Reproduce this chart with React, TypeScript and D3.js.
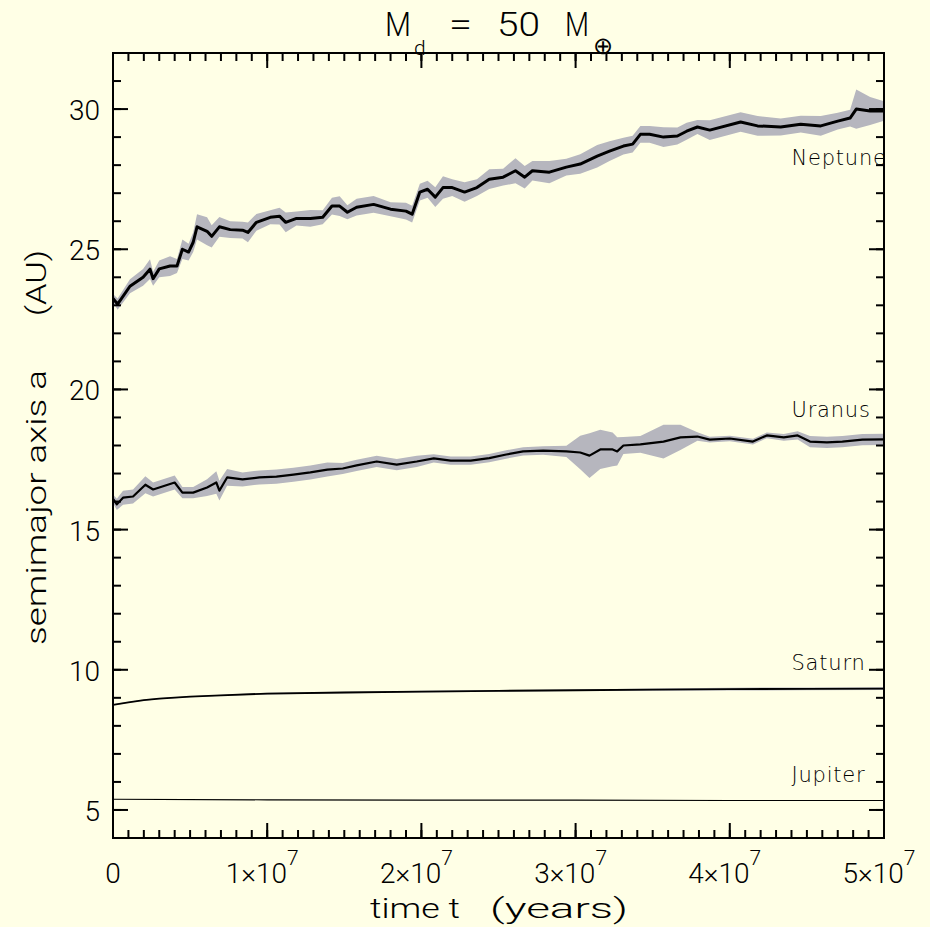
import React, { useEffect } from "react";
import * as d3 from "d3";

// time in units of 1e6 years, semimajor axis in AU
const nepT = [0, 0.3, 1.1, 1.95, 2.4, 2.6, 3.0, 3.7, 4.15, 4.5, 4.9, 5.2, 5.45, 6.1, 6.4, 6.9, 7.6, 8.4, 8.75, 9.3, 10.2, 10.8, 11.2, 11.9, 12.8, 13.6, 14.2, 14.7, 15.2, 15.8, 16.9, 18.0, 19.0, 19.4, 19.9, 20.4, 20.9, 21.4, 22.0, 22.8, 23.6, 24.4, 25.3, 26.1, 26.7, 27.2, 28.3, 29.4, 30.3, 31.4, 32.2, 33.1, 33.7, 34.2, 34.8, 35.7, 36.6, 37.2, 37.9, 38.7, 40.7, 41.8, 43.3, 44.6, 45.9, 47.0, 47.8, 48.2, 49.1, 50.0];
const nepA = [23.25, 23.04, 23.68, 24.0, 24.29, 23.95, 24.3, 24.4, 24.4, 25.0, 24.9, 25.25, 25.8, 25.64, 25.46, 25.8, 25.7, 25.68, 25.6, 25.96, 26.14, 26.18, 25.96, 26.1, 26.1, 26.14, 26.54, 26.54, 26.32, 26.5, 26.6, 26.43, 26.36, 26.25, 27.04, 27.14, 26.86, 27.2, 27.2, 27.04, 27.2, 27.5, 27.57, 27.8, 27.57, 27.8, 27.75, 27.93, 28.04, 28.32, 28.5, 28.68, 28.75, 29.1, 29.1, 29.0, 29.04, 29.21, 29.36, 29.25, 29.54, 29.4, 29.36, 29.46, 29.4, 29.57, 29.68, 30.0, 29.93, 29.93];
const nepSpread = [0.15, 0.2, 0.25, 0.3, 0.35, 0.25, 0.3, 0.35, 0.25, 0.35, 0.3, 0.35, 0.45, 0.5, 0.4, 0.35, 0.3, 0.3, 0.35, 0.3, 0.25, 0.3, 0.35, 0.25, 0.3, 0.25, 0.3, 0.35, 0.25, 0.3, 0.3, 0.25, 0.3, 0.3, 0.3, 0.3, 0.35, 0.4, 0.3, 0.35, 0.3, 0.35, 0.3, 0.45, 0.4, 0.35, 0.4, 0.3, 0.35, 0.4, 0.35, 0.3, 0.3, 0.3, 0.3, 0.35, 0.3, 0.3, 0.25, 0.35, 0.35, 0.35, 0.3, 0.3, 0.35, 0.3, 0.3, 0.7, 0.5, 0.35];

const uraT = [0, 0.25, 0.65, 1.3, 2.1, 2.6, 3.2, 4.0, 4.5, 5.2, 6.1, 6.7, 6.9, 7.4, 8.4, 9.5, 10.6, 11.7, 12.8, 13.9, 14.9, 15.8, 17.1, 18.4, 19.7, 20.8, 21.9, 23.2, 24.4, 25.5, 26.6, 27.9, 29.4, 30.3, 30.9, 31.6, 32.4, 32.7, 33.1, 34.2, 35.7, 36.8, 37.9, 38.7, 40.0, 41.5, 42.4, 43.5, 44.4, 45.2, 46.3, 47.3, 48.6, 50.0];
const uraA = [16.1, 15.9, 16.14, 16.18, 16.6, 16.43, 16.54, 16.68, 16.32, 16.32, 16.5, 16.68, 16.39, 16.86, 16.79, 16.86, 16.89, 16.96, 17.04, 17.14, 17.18, 17.29, 17.43, 17.32, 17.43, 17.54, 17.46, 17.46, 17.55, 17.68, 17.79, 17.82, 17.79, 17.75, 17.64, 17.86, 17.86, 17.79, 18.0, 18.04, 18.14, 18.29, 18.32, 18.21, 18.25, 18.14, 18.36, 18.29, 18.36, 18.14, 18.11, 18.14, 18.21, 18.22];
const uraSpread = [0.15, 0.2, 0.25, 0.25, 0.3, 0.25, 0.25, 0.25, 0.2, 0.2, 0.3, 0.4, 0.35, 0.3, 0.25, 0.25, 0.25, 0.25, 0.25, 0.25, 0.2, 0.2, 0.2, 0.2, 0.2, 0.15, 0.15, 0.15, 0.15, 0.15, 0.15, 0.15, 0.2, 0.6, 0.8, 0.7, 0.6, 0.5, 0.3, 0.3, 0.6, 0.45, 0.15, 0.1, 0.1, 0.1, 0.1, 0.12, 0.15, 0.2, 0.2, 0.2, 0.2, 0.2];

const satT = [0, 1, 2, 3, 5, 7, 10, 15, 20, 25, 30, 35, 40, 45, 50];
const satA = [8.75, 8.84, 8.92, 8.97, 9.04, 9.09, 9.15, 9.19, 9.22, 9.25, 9.27, 9.29, 9.31, 9.32, 9.33];
const satSpread = [0.02, 0.02, 0.02, 0.02, 0.02, 0.02, 0.03, 0.03, 0.03, 0.03, 0.03, 0.04, 0.05, 0.05, 0.05];

const jupT = [0, 10, 20, 30, 40, 50];
const jupA = [5.38, 5.36, 5.35, 5.35, 5.34, 5.34];

const planetNames = ["Neptune", "Uranus", "Saturn", "Jupiter"];
const labelA = [28, 19, 10, 6];
const labelT = 44; // 1e6 yr

const xTicks = [0, 1, 2, 3, 4, 5]; // x 1e7 yr
const yTicks = [5, 10, 15, 20, 25, 30];

const BG = "#ffffe6";
const BAND = "#b6b6be";
const FONT = "Roboto, 'DejaVu Sans', sans-serif";

function toPts(t: number[], a: number[], s?: number[]) {
  return t.map((v, i) => ({ t: v * 1e6, a: a[i], s: s ? s[i] : 0 }));
}

export default function App() {
  useEffect(() => {
    document.body.style.margin = "0";
    document.body.style.background = BG;
  }, []);

  const W = 930, H = 927;
  const left = 113, right = 884, top = 53, bottom = 838;
  const x = d3.scaleLinear().domain([0, 5e7]).range([left, right]);
  const y = d3.scaleLinear().domain([4, 32]).range([bottom, top]);

  const line = d3.line<{ t: number; a: number }>().x(d => x(d.t)).y(d => y(d.a));
  const band = d3.area<{ t: number; a: number; s: number }>()
    .x(d => x(d.t)).y0(d => y(d.a - d.s)).y1(d => y(d.a + d.s));

  const nep = toPts(nepT, nepA, nepSpread);
  const ura = toPts(uraT, uraA, uraSpread);
  const sat = toPts(satT, satA, satSpread);
  const jup = toPts(jupT, jupA);

  const xMinor = x.ticks(50);
  const yMinor = y.ticks(28);

  return (
    <svg width={W} height={H} style={{ display: "block", background: BG }} fontFamily={FONT} fontWeight={300}>
      <rect width={W} height={H} fill={BG} />
      {/* spread bands */}
      <path d={band(nep) || ""} fill={BAND} />
      <path d={band(ura) || ""} fill={BAND} />
      <path d={band(sat) || ""} fill={BAND} />
      {/* mean lines */}
      <path d={line(nep) || ""} fill="none" stroke="#000" strokeWidth={3} strokeLinejoin="round" />
      <path d={line(ura) || ""} fill="none" stroke="#000" strokeWidth={2.2} strokeLinejoin="round" />
      <path d={line(sat) || ""} fill="none" stroke="#000" strokeWidth={1.8} />
      <path d={line(jup) || ""} fill="none" stroke="#000" strokeWidth={1.1} />

      {/* planet labels */}
      {planetNames.map((n, i) => (
        <text key={n} x={x(labelT * 1e6)} y={y(labelA[i])} fontSize={21} fontFamily="'DejaVu Sans', sans-serif" fontWeight={200} fill="#000" letterSpacing={0.8}>
          {n}
        </text>
      ))}

      {/* frame */}
      <rect x={left} y={top} width={right - left} height={bottom - top} fill="none" stroke="#000" strokeWidth={2} />

      {/* ticks */}
      <g stroke="#000" strokeWidth={2}>
        {xMinor.map(v => (
          <g key={"xm" + v}>
            <line x1={x(v)} x2={x(v)} y1={bottom} y2={bottom - 8} />
            <line x1={x(v)} x2={x(v)} y1={top} y2={top + 8} />
          </g>
        ))}
        {yMinor.map(v => (
          <g key={"ym" + v}>
            <line x1={left} x2={left + 8} y1={y(v)} y2={y(v)} />
            <line x1={right} x2={right - 8} y1={y(v)} y2={y(v)} />
          </g>
        ))}
        {xTicks.map(v => (
          <g key={"xM" + v}>
            <line x1={x(v * 1e7)} x2={x(v * 1e7)} y1={bottom} y2={bottom - 15} />
            <line x1={x(v * 1e7)} x2={x(v * 1e7)} y1={top} y2={top + 15} />
          </g>
        ))}
        {yTicks.map(v => (
          <g key={"yM" + v}>
            <line x1={left} x2={left + 15} y1={y(v)} y2={y(v)} />
            <line x1={right} x2={right - 15} y1={y(v)} y2={y(v)} />
          </g>
        ))}
      </g>

      {/* tick labels */}
      {yTicks.map(v => (
        <text key={"yl" + v} x={left - 13} y={y(v) + 11} fontSize={28} textAnchor="end" fill="#000">
          {v}
        </text>
      ))}
      {xTicks.map(v => (
        <text key={"xl" + v} x={x(v * 1e7) + (v === 0 ? 0 : -5)} y={883} fontSize={28} textAnchor="middle" fill="#000">
          {v === 0 ? "0" : `${v}\u00d710`}
          {v === 0 ? null : (
            <tspan fontSize={21} dy={-18}>7</tspan>
          )}
        </text>
      ))}

      {/* axis titles */}
      <g fontSize={28} fill="#000">
        <text x={370} y={918} textLength={90} lengthAdjust="spacingAndGlyphs">time t</text>
        <text x={490} y={918} textLength={138} lengthAdjust="spacingAndGlyphs">(years)</text>
        <text transform="translate(46,645) rotate(-90)" textLength={275} lengthAdjust="spacingAndGlyphs">semimajor axis a</text>
        <text transform="translate(46,316) rotate(-90)" textLength={66} lengthAdjust="spacingAndGlyphs">(AU)</text>
      </g>

      {/* title */}
      <g fontSize={34} fill="#000">
        <text x={385} y={36} textLength={26} lengthAdjust="spacingAndGlyphs">M</text>
        <text x={414} y={55} fontSize={21}>d</text>
        <text x={449} y={36} textLength={23} lengthAdjust="spacingAndGlyphs">=</text>
        <text x={497} y={36} textLength={43} lengthAdjust="spacingAndGlyphs">50</text>
        <text x={565} y={36} textLength={24} lengthAdjust="spacingAndGlyphs">M</text>
        <text x={593} y={54} fontSize={24}>⊕</text>
      </g>
    </svg>
  );
}
